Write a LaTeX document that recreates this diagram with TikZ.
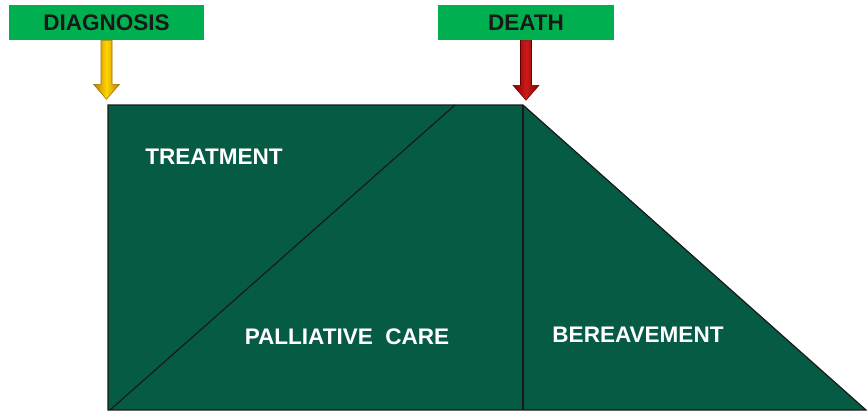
\documentclass[tikz,border=0pt]{standalone}
\usepackage{fontspec}
\setmainfont{Liberation Sans}
\usetikzlibrary{calc}
\definecolor{boardgreen}{RGB}{6,91,69}
\definecolor{taggreen}{RGB}{0,176,80}
\definecolor{goldarrow}{RGB}{250,190,0}
\definecolor{redarrow}{RGB}{196,0,0}

\begin{document}
\begin{tikzpicture}[x=0.75pt,y=0.75pt,yscale=-1,xscale=1,
  tag/.style={fill=taggreen,minimum width=#1,minimum height=26.25pt,inner sep=0pt,
    font=\fontsize{16.9}{20}\selectfont\bfseries,text=black!90},
  phase/.style={inner sep=0pt,font=\fontsize{16.9}{20}\selectfont\bfseries,text=white},
  edge/.style={draw=black!90,line width=0.9pt}]
\path[use as bounding box] (0,0) rectangle (867,412);

%Board: rectangle and triangle
\fill[boardgreen] (108,105) rectangle (523,410);
\fill[boardgreen] (523,105) -- (866,410) -- (523,410) -- cycle;
\coordinate (lt) at (108,105);
\coordinate (lb) at (108,410);
\coordinate (mt) at (523,105);
\coordinate (mb) at (523,410);
\coordinate (rb) at (866,410);
\coordinate (dgb) at (110,410);
\coordinate (dgt) at (455,105);
\draw[edge] (lb) -- (lt) -- (mt) -- (rb) -- cycle;
%Straight Lines
\draw[edge] (mt) -- (mb);
\draw[edge] (dgb) -- (dgt);

% Text Node
\node[tag=146.25pt] (diag) at (106.5,22.5) {DIAGNOSIS};
% Text Node
\node[tag=132pt] (death) at (526,22.5) {DEATH};

%Block arrows
\path (diag.south) ++(0,59) coordinate (dtip);
\path (death.south) ++(0,60) coordinate (etip);
\shade[left color=goldarrow!75!red!80!black,right color=goldarrow!75!red!80!black,middle color=goldarrow!60!yellow,
  draw=goldarrow!60!black,line width=0.4pt]
  ($(diag.south)+(-5.5,0)$) -- ($(dtip)+(-5.5,-15)$) -- ($(dtip)+(-13,-15)$) -- (dtip)
  -- ($(dtip)+(13,-15)$) -- ($(dtip)+(5.5,-15)$) -- ($(diag.south)+(5.5,0)$) -- cycle;
\shade[left color=redarrow!70!black,right color=redarrow!70!black,middle color=redarrow!90!white,
  draw=redarrow!50!black,line width=0.4pt]
  ($(death.south)+(-5.5,0)$) -- ($(etip)+(-5.5,-15)$) -- ($(etip)+(-13,-15)$) -- (etip)
  -- ($(etip)+(13,-15)$) -- ($(etip)+(5.5,-15)$) -- ($(death.south)+(5.5,0)$) -- cycle;

% Text Node
\node[phase] (treat) at (214,157) {TREATMENT};
% Text Node
\node[phase] (pall) at (347,337) {PALLIATIVE\ \ CARE};
% Text Node
\node[phase] (berv) at (638,335) {BEREAVEMENT};
\end{tikzpicture}
\end{document}
